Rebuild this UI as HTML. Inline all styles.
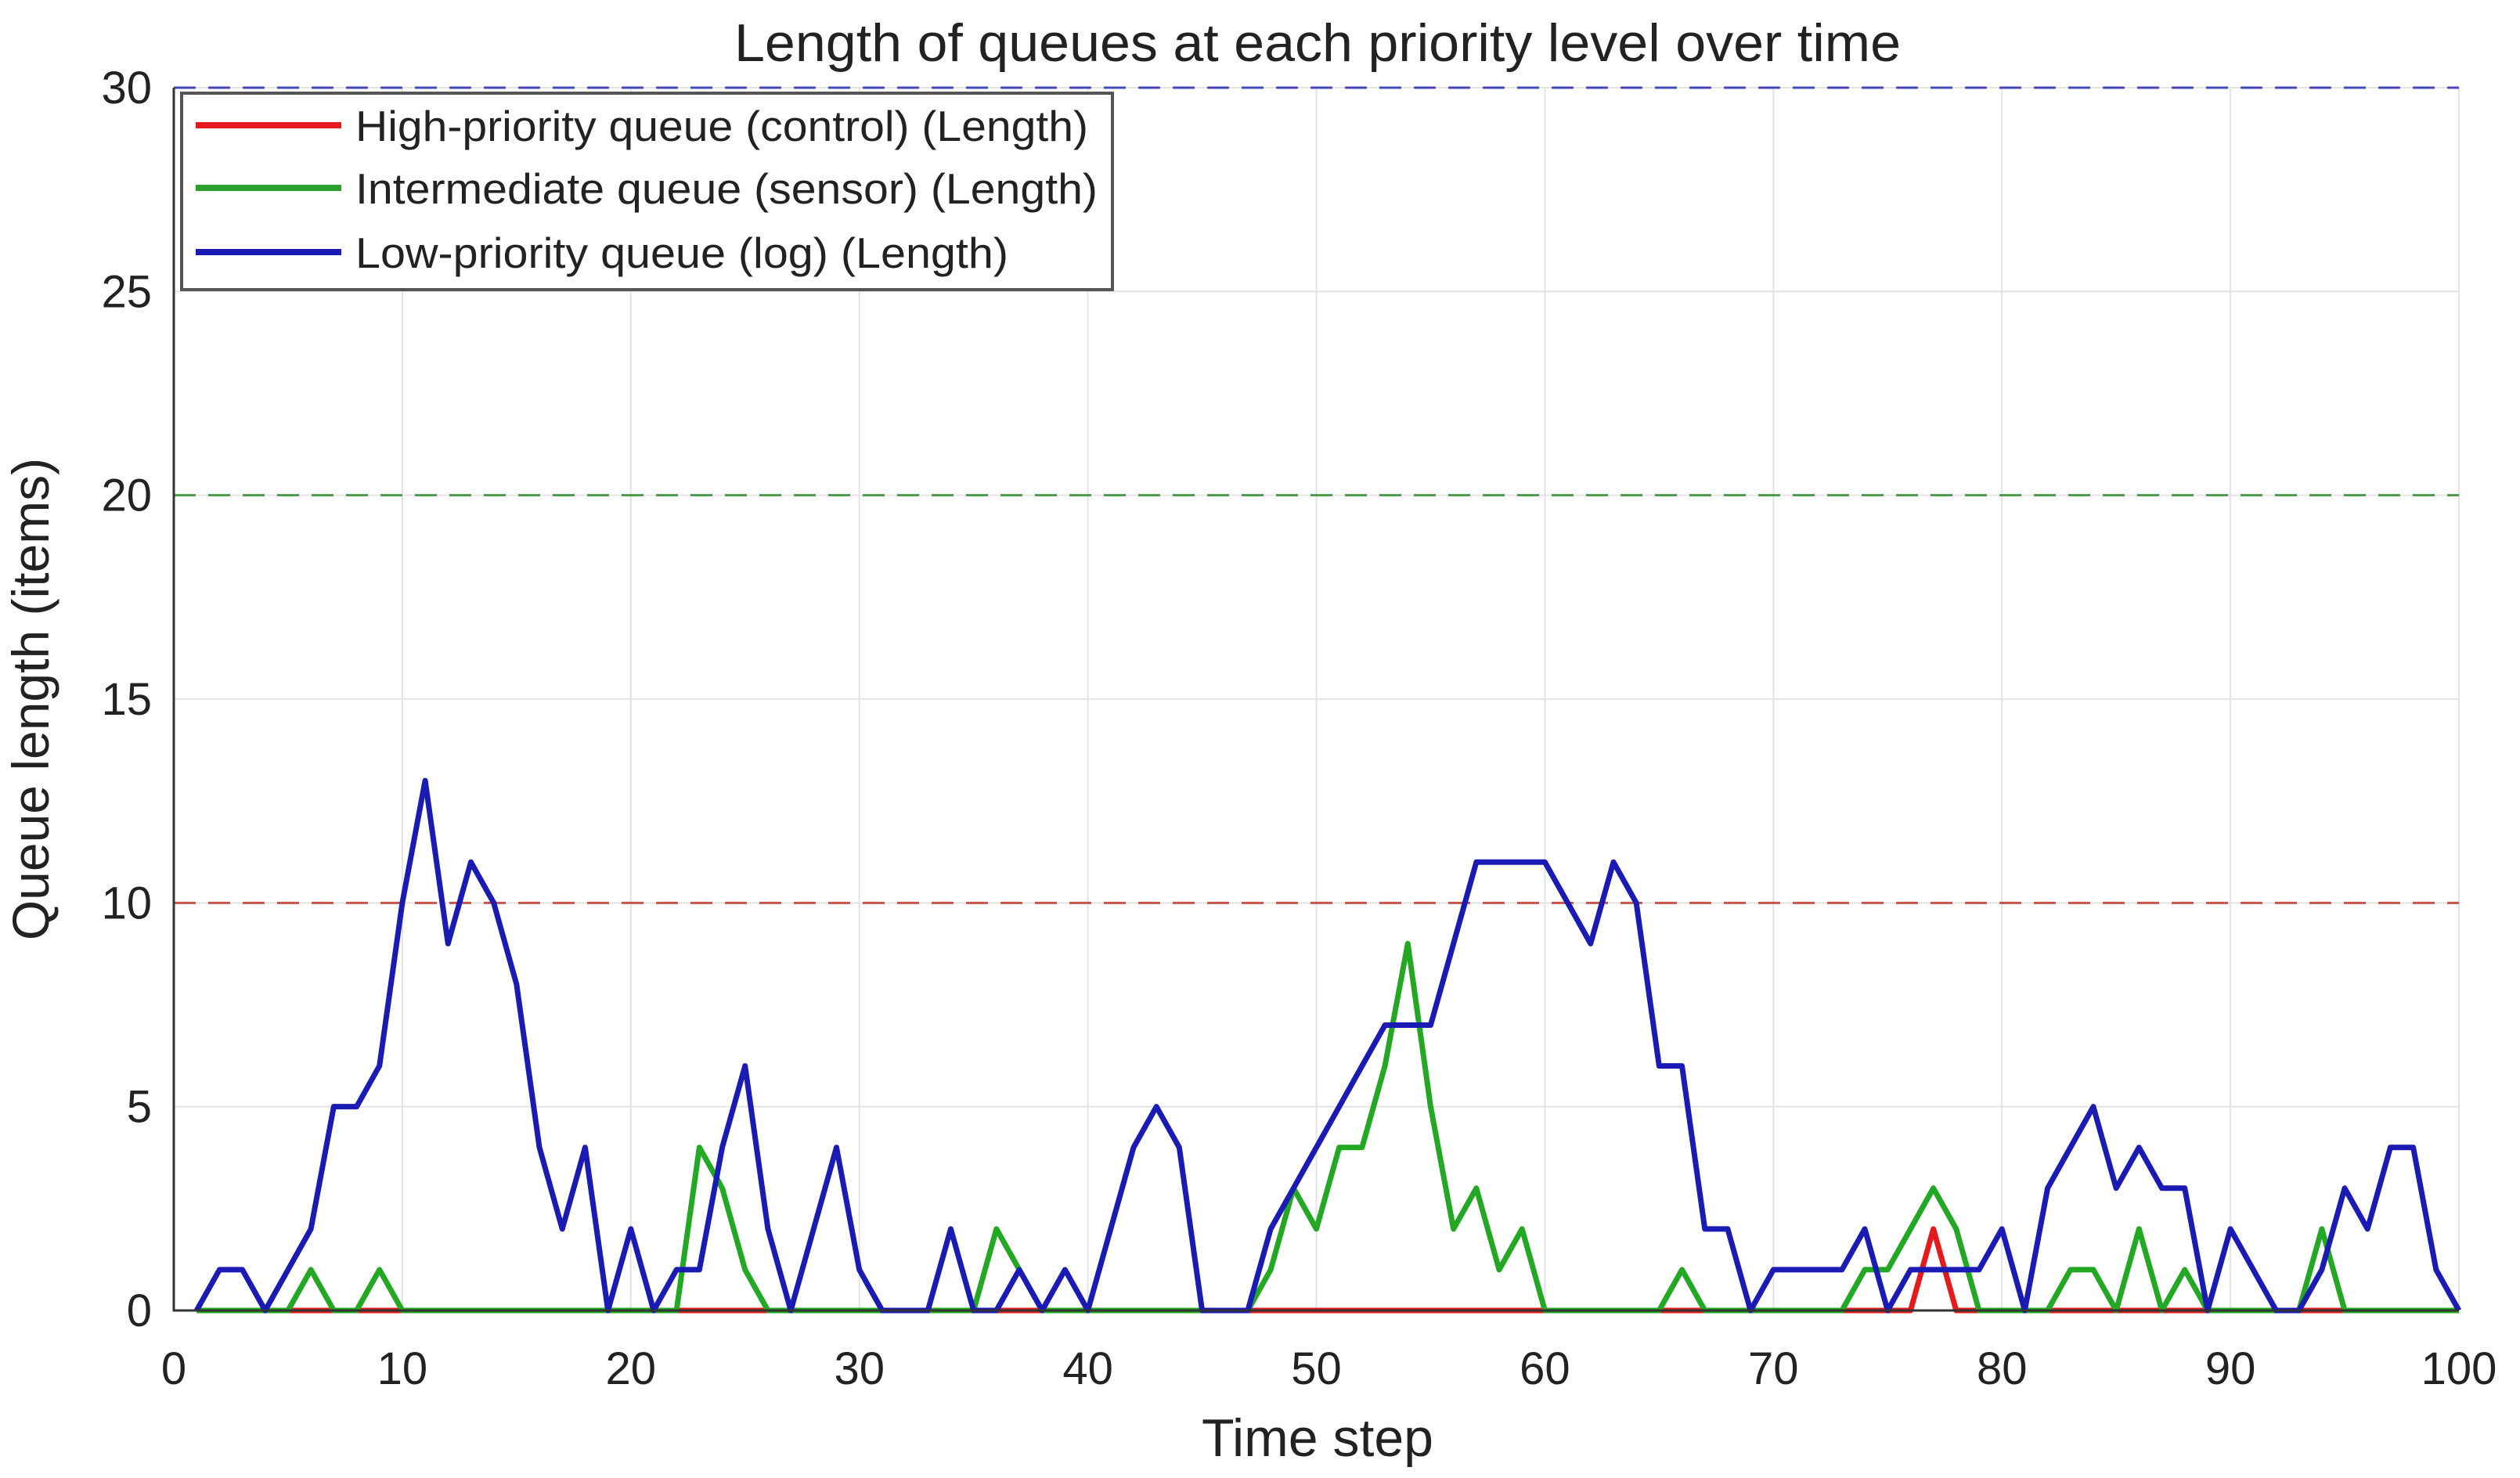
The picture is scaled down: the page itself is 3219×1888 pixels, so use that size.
<!DOCTYPE html>
<html><head><meta charset="utf-8"><style>
html,body{margin:0;padding:0;background:#fff;}
svg{display:block;font-family:"Liberation Sans",sans-serif;}
</style></head><body>
<svg id="chart" width="3219" height="1888" viewBox="0 0 3219 1888" xmlns="http://www.w3.org/2000/svg">
<rect x="0" y="0" width="3219" height="1888" fill="#fff"/>
<text x="1683" y="78" font-size="68" text-anchor="middle" fill="#222" textLength="1490" lengthAdjust="spacingAndGlyphs">Length of queues at each priority level over time</text>
<g id="grid"></g>
<g id="thresholds"></g>
<g id="series"></g>
<g id="axes"></g>
<text x="1683" y="1860" font-size="68" text-anchor="middle" fill="#222">Time step</text>
<text transform="translate(62,893) rotate(-90)" font-size="66" text-anchor="middle" fill="#222">Queue length (items)</text>
<g>
<rect x="232" y="119" width="1189" height="251" fill="#fff" stroke="#555" stroke-width="4"/>
<line x1="250" y1="160" x2="436" y2="160" stroke="#e41a1c" stroke-width="8"/>
<text x="454" y="180" font-size="55" fill="#222" textLength="936" lengthAdjust="spacingAndGlyphs">High-priority queue (control) (Length)</text>
<line x1="250" y1="240" x2="436" y2="240" stroke="#2ca02c" stroke-width="8"/>
<text x="454" y="260" font-size="55" fill="#222" textLength="948" lengthAdjust="spacingAndGlyphs">Intermediate queue (sensor) (Length)</text>
<line x1="250" y1="322" x2="436" y2="322" stroke="#1a1ab4" stroke-width="8"/>
<text x="454" y="342" font-size="55" fill="#222" textLength="834" lengthAdjust="spacingAndGlyphs">Low-priority queue (log) (Length)</text>
</g>
</svg>
<script>
const xTicks = [0,10,20,30,40,50,60,70,80,90,100];
const yTicks = [0,5,10,15,20,25,30];
const timeSteps = Array.from({length:100},(_, i)=>i+1);
const lowQueue = [0,1,1,0,1,2,5,5,6,10,13,9,11,10,8,4,2,4,0,2,0,1,1,4,6,2,0,2,4,1,0,0,0,2,0,0,1,0,1,0,2,4,5,4,0,0,0,2,3,4,5,6,7,7,7,9,11,11,11,11,10,9,11,10,6,6,2,2,0,1,1,1,1,2,0,1,1,1,1,2,0,3,4,5,3,4,3,3,0,2,1,0,0,1,3,2,4,4,1,0];
const midQueue = [0,0,0,0,0,1,0,0,1,0,0,0,0,0,0,0,0,0,0,0,0,0,4,3,1,0,0,0,0,0,0,0,0,0,0,2,1,0,0,0,0,0,0,0,0,0,0,1,3,2,4,4,6,9,5,2,3,1,2,0,0,0,0,0,0,1,0,0,0,0,0,0,0,1,1,2,3,2,0,0,0,0,1,1,0,2,0,1,0,0,0,0,0,2,0,0,0,0,0,0];
const highQueue = [0,0,0,0,0,0,0,0,0,0,0,0,0,0,0,0,0,0,0,0,0,0,0,0,0,0,0,0,0,0,0,0,0,0,0,0,0,0,0,0,0,0,0,0,0,0,0,0,0,0,0,0,0,0,0,0,0,0,0,0,0,0,0,0,0,0,0,0,0,0,0,0,0,0,0,0,2,0,0,0,0,0,0,0,0,0,0,0,0,0,0,0,0,0,0,0,0,0,0,0];
const thresholds = [10,20,30];

const L=222,R=3141,T=112,B=1674;
const X=v=>L+(v-0)/(100-0)*(R-L);
const Y=v=>B-(v-0)/(30-0)*(B-T);
const NS="http://www.w3.org/2000/svg";
function mk(tag,attrs,parent){const e=document.createElementNS(NS,tag);for(const k in attrs)e.setAttribute(k,attrs[k]);parent.appendChild(e);return e;}
const grid=document.getElementById('grid'),axes=document.getElementById('axes'),th=document.getElementById('thresholds'),ser=document.getElementById('series');
xTicks.forEach(t=>{
  const g=mk('line',{x1:X(t),x2:X(t),y1:T,y2:B,stroke:'#e3e3e3','stroke-width':2},grid);
  
  
  const tx=mk('text',{x:X(t),y:B+94,'font-size':58,'text-anchor':'middle',fill:'#222'},axes);
  tx.textContent=t;
  
  
});
yTicks.forEach(t=>{
  const g=mk('line',{x1:L,x2:R,y1:Y(t),y2:Y(t),stroke:'#e3e3e3','stroke-width':2},grid);
  
  
  const tx=mk('text',{x:L-28,y:Y(t)+20,'font-size':58,'text-anchor':'end',fill:'#222'},axes);
  tx.textContent=t;
  
  
});
const thColors=['#c0392b','#2e8b2e','#2b2bb0'];
thresholds.forEach((v,i)=>{
  const l=mk('line',{x1:L,x2:R,y1:Y(v),y2:Y(v),stroke:thColors[i],'stroke-width':3,'stroke-dasharray':'28,16','opacity':0.85},th);
  
  
});
function series(vals,color,name){
  const d=vals.map((v,i)=>(i?'L':'M')+X(timeSteps[i])+','+Y(v)).join(' ');
  const p=mk('path',{d:d,fill:'none',stroke:color,'stroke-width':7,'stroke-linejoin':'round'},ser);
  
  
}
series(highQueue,'#e41a1c','high-priority-line');
series(midQueue,'#22a822','intermediate-line');
series(lowQueue,'#1a1ab4','low-priority-line');
const ax=mk('path',{d:`M${L},${T} L${L},${B} L${R},${B}`,fill:'none',stroke:'#333','stroke-width':3},axes);


</script>
</body></html>
